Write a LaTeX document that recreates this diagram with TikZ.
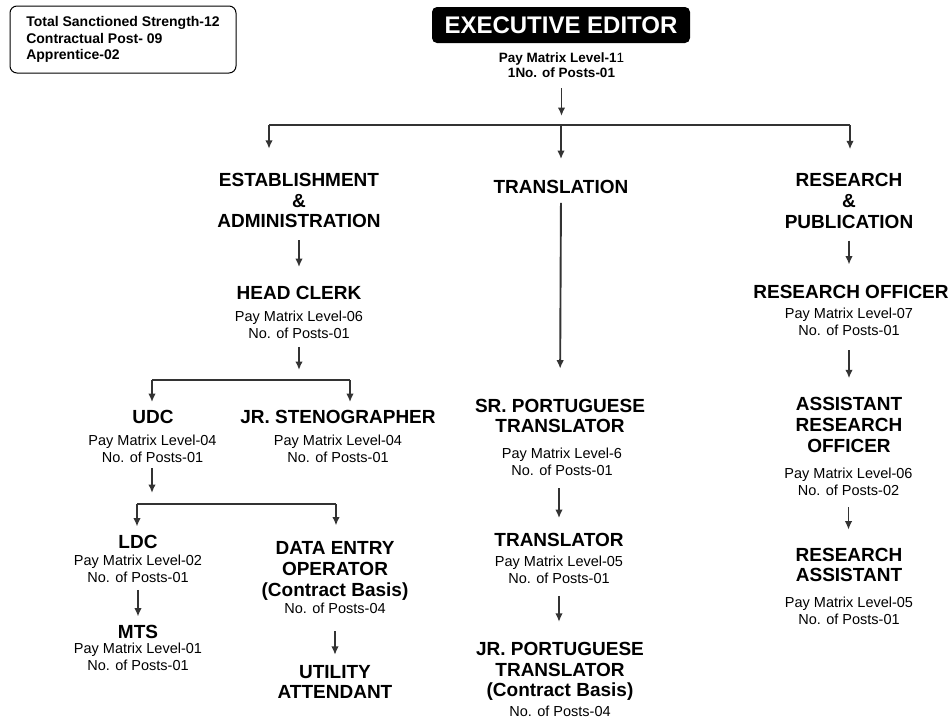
\documentclass[tikz,border=0pt]{standalone}
\usepackage{fontspec}
\setmainfont{Liberation Sans}
\usetikzlibrary{arrows.meta}
\usetikzlibrary{positioning}

\tikzset{
  title/.style={font=\bfseries\fontsize{19}{20.8}\selectfont, align=center, inner sep=0pt},
  info/.style={font=\fontsize{14.5}{16.8}\selectfont, align=center, inner sep=0pt},
  link/.style={draw=black!80, line width=1.9pt},
  arr/.style={link, -{Latex[length=8.5pt,width=7.5pt]}},
}

\begin{document}
\begin{tikzpicture}[x=1pt, y=-1pt]
  \useasboundingbox (0,0) rectangle (950,721);

  % totals and head of office
  \node[draw, line width=1pt, rounded corners=7pt, minimum width=226pt, minimum height=67pt,
        align=left, font=\bfseries\fontsize{14}{16.5}\selectfont]
    (totals) at (123, 39.5) {Total Sanctioned Strength-12\\Contractual Post- 09\\Apprentice-02};
  \node[fill=black, text=white, rounded corners=5pt, minimum width=258pt, minimum height=36pt,
        font=\bfseries\fontsize{24}{26}\selectfont] (exec) at (561, 25) {EXECUTIVE EDITOR};
  \node[info, font=\bfseries\fontsize{13.5}{15}\selectfont] (exec-info) at (561.5, 65.5)
    {Pay Matrix Level-1{\mdseries 1}\\1No. of Posts-01};

  \coordinate (topbar) at (561, 125);
  \coordinate (bar-l) at (269, 125);
  \coordinate (bar-r) at (850, 125);

  % three wings
  \node[title] (est) at (299, 200.5) {ESTABLISHMENT\\\&\\ADMINISTRATION};
  \node[title] (trans) at (561, 187) {TRANSLATION};
  \node[title] (res) at (849, 201) {RESEARCH\\\&\\PUBLICATION};

  % establishment & administration
  \node[title] (hc) at (299, 293) {HEAD CLERK};
  \node[info] (hc-info) at (299, 325) {Pay Matrix Level-06\\No. of Posts-01};
  \coordinate (hcbar) at (299, 380);
  \coordinate (hcbar-l) at (152, 380);
  \coordinate (hcbar-r) at (350, 380);

  \node[title] (udc) at (153, 417) {UDC};
  \node[info] (udc-info) at (152.5, 448.5) {Pay Matrix Level-04\\No. of Posts-01};
  \node[title] (steno) at (338, 417) {JR. STENOGRAPHER};
  \node[info] (steno-info) at (338, 448.5) {Pay Matrix Level-04\\No. of Posts-01};
  \coordinate (udcbar) at (152, 504);
  \coordinate (udcbar-l) at (137, 504);
  \coordinate (udcbar-r) at (336, 504);

  \node[title] (ldc) at (138, 541.5) {LDC};
  \node[info] (ldc-info) at (138, 569) {Pay Matrix Level-02\\No. of Posts-01};
  \node[title] (mts) at (138, 631.5) {MTS};
  \node[info] (mts-info) at (138, 656.5) {Pay Matrix Level-01\\No. of Posts-01};
  \node[title] (deo) at (335, 571) {DATA ENTRY\\OPERATOR\\(Contract Basis)};
  \node[info] (deo-info) at (335, 608.5) {No. of Posts-04};
  \node[title] (util) at (335, 682) {UTILITY\\ATTENDANT};

  % translation
  \node[title] (sr) at (560, 416) {SR. PORTUGUESE\\TRANSLATOR};
  \node[info] (sr-info) at (562, 461.5) {Pay Matrix Level-6\\No. of Posts-01};
  \node[title] (tr) at (559, 540) {TRANSLATOR};
  \node[info] (tr-info) at (559, 570) {Pay Matrix Level-05\\No. of Posts-01};
  \node[title] (jr) at (560, 671.5) {JR. PORTUGUESE\\TRANSLATOR\\(Contract Basis)};
  \node[info] (jr-info) at (560, 711.5) {No. of Posts-04};

  % research & publication
  \node[title] (ro) at (851, 291.5) {RESEARCH OFFICER};
  \node[info] (ro-info) at (849, 321.5) {Pay Matrix Level-07\\No. of Posts-01};
  \node[title] (aro) at (849, 425) {ASSISTANT\\RESEARCH\\OFFICER};
  \node[info] (aro-info) at (848.5, 481.5) {Pay Matrix Level-06\\No. of Posts-02};
  \node[title] (ra) at (849, 565) {RESEARCH\\ASSISTANT};
  \node[info] (ra-info) at (849, 611) {Pay Matrix Level-05\\No. of Posts-01};

  % connectors
  \draw[arr, shorten <=10pt, shorten >=9pt] (exec-info.south) -- (exec-info.south |- topbar);
  \draw[link] (bar-l) -- (bar-r);
  \draw[arr, shorten >=24pt] (bar-l) -- (bar-l |- est.north);
  \draw[arr, shorten >=21pt] (topbar) -- (trans.north);
  \draw[arr, shorten >=24pt] (bar-r) -- (bar-r |- res.north);

  \draw[arr, shorten <=12pt, shorten >=19pt] (est.south) -- (hc.north);
  \draw[arr, shorten <=8pt, shorten >=10pt] (hc-info.south) -- (hcbar);
  \draw[link] (hcbar-l) -- (hcbar-r);
  \draw[arr, shorten >=8pt] (hcbar-l) -- (hcbar-l |- udc.north);
  \draw[arr, shorten >=8pt] (hcbar-r) -- (hcbar-r |- steno.north);

  \draw[arr, shorten <=6pt, shorten >=11pt] (udc-info.south -| udcbar) -- (udcbar);
  \draw[link] (udcbar-l) -- (udcbar-r);
  \draw[arr, shorten >=8pt] (udcbar-l) -- (udcbar-l |- ldc.north);
  \draw[arr, shorten >=16pt] (udcbar-r) -- (udcbar-r |- deo.north);
  \draw[arr, shorten <=7pt, shorten >=8pt] (ldc-info.south) -- (mts.north);
  \draw[arr, shorten <=17pt, shorten >=10pt] (deo-info.south) -- (util.north);

  \draw[arr, shorten <=9pt, shorten >=30pt] (trans.south) -- (sr.north);
  \draw[arr, shorten <=13pt, shorten >=15pt] (sr-info.south -| tr.north) -- (tr.north);
  \draw[arr, shorten <=12pt, shorten >=20pt] (tr-info.south) -- (tr-info.south |- jr.north);

  \draw[arr, shorten <=12pt, shorten >=20pt] (res.south) -- (res.south |- ro.north);
  \draw[arr, shorten <=15pt, shorten >=19pt] (ro-info.south) -- (ro-info.south |- aro.north);
  \draw[arr, shorten <=12pt, shorten >=18pt] (aro-info.south) -- (aro-info.south |- ra.north);
\end{tikzpicture}
\end{document}
